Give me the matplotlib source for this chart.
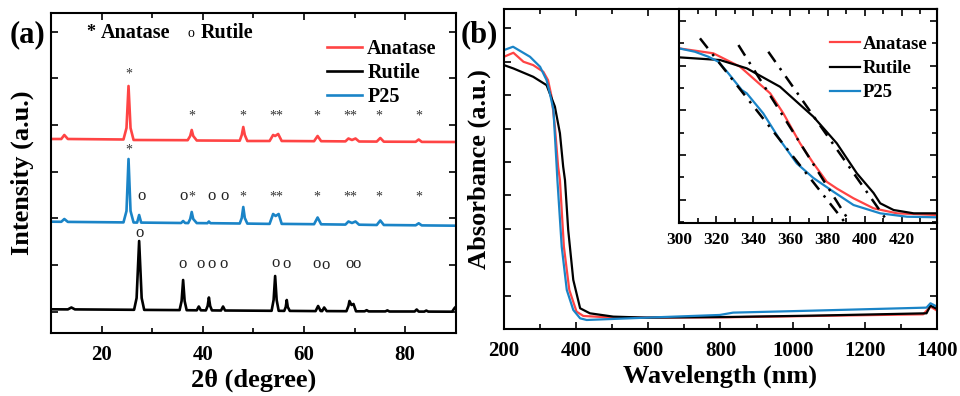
import numpy as np
import matplotlib
matplotlib.use('Agg')
import matplotlib.pyplot as plt
from matplotlib.ticker import MultipleLocator

plt.rcParams['font.family'] = ['Liberation Serif', 'DejaVu Serif']
plt.rcParams['font.weight'] = 'bold'

RED = '#ff4444'
BLUE = '#1a84c7'
BLACK = '#000000'

# ---- (a) XRD patterns, intensity already offset for stacking (a.u.)
ana_2t = [10, 12.0, 12.6, 13.3, 24.3, 24.9, 25.3, 25.7, 26.3, 37.0, 37.5, 37.8, 38.1, 38.8,
          47.3, 47.7, 48.0, 48.3, 48.8, 53.2, 53.9, 54.3, 54.9, 55.6, 62.0, 62.7, 63.4,
          68.2, 68.8, 69.5, 70.2, 70.9, 74.4, 75.1, 75.8, 82.1, 82.7, 83.3, 90]
ana_int = [194, 194, 198, 194, 193.5, 205, 247, 205, 193, 192.8, 197, 203, 197, 192.5,
           192.3, 198, 206, 198, 192, 192, 198, 197, 199, 192, 191.8, 197, 191.8,
           191.6, 194.5, 193, 194.5, 191.5, 191.4, 195, 191.3, 191.2, 193.5, 191.1, 191]

p25_2t = [10, 12.0, 12.6, 13.3, 24.3, 24.9, 25.3, 25.7, 26.3, 27.0, 27.4, 27.8, 35.7, 36.1, 36.5,
          37.1, 37.5, 37.8, 38.1, 38.8, 40.9, 41.2, 41.5, 47.3, 47.7, 48.0, 48.3, 48.8,
          53.2, 53.9, 54.4, 55.0, 55.6, 62.0, 62.7, 63.4, 68.2, 68.8, 69.5, 70.2, 70.9,
          74.4, 75.1, 75.8, 82.1, 82.7, 83.3, 90]
p25_int = [111.3, 111.2, 114, 111.1, 110.6, 122, 174, 122, 110.5, 110.4, 118, 110.4, 110.0, 112, 110.0,
           109.9, 114, 121, 114, 109.9, 109.8, 111.5, 109.8, 109.5, 115, 126, 115, 109.4,
           109.1, 119, 117, 119, 109.1, 108.8, 115.5, 108.7, 108.4, 111.5, 110, 111.5, 108.3,
           108.0, 112.5, 108.0, 107.7, 109.7, 107.6, 107.3]

rut_2t = [10, 13.3, 14.0, 14.7, 26.4, 26.9, 27.4, 27.9, 28.4, 35.4, 35.8, 36.1, 36.4, 36.8,
          38.8, 39.2, 39.6, 40.6, 40.95, 41.2, 41.45, 41.8, 43.6, 44.0, 44.4,
          53.6, 54.0, 54.3, 54.6, 55.0, 56.1, 56.4, 56.6, 56.8, 57.2,
          62.3, 62.8, 63.3, 63.6, 64.0, 64.5, 68.4, 68.8, 69.0, 69.4, 69.8, 70.3,
          72.0, 72.4, 72.8, 76.1, 76.5, 76.9, 81.9, 82.3, 82.7, 83.8, 84.2, 84.6, 89.3, 89.8, 90]
rut_int = [23.7, 23.6, 25.5, 23.6, 23.2, 35, 92, 35, 23.1, 22.9, 32, 53, 32, 22.8,
           22.7, 26.5, 22.7, 22.6, 27, 35.5, 27, 22.6, 22.5, 26.5, 22.5,
           22.2, 33, 57, 33, 22.2, 22.1, 26, 33, 26, 22.1,
           21.9, 27, 22.0, 21.9, 25.5, 21.9, 21.8, 27, 32, 28, 29, 21.7,
           21.7, 22.8, 21.6, 21.6, 22.6, 21.5, 21.5, 23.5, 21.4, 21.4, 22.4, 21.4, 21.3, 25, 26]

# phase marks: (2theta, height, text)
ana_marks = [(25.3, 259, '*'), (37.8, 217, '*'), (48.0, 217, '*'), (54.5, 217, '**'),
             (62.6, 217, '*'), (69.1, 217, '**'), (74.8, 217, '*'), (82.7, 217, '*')]
p25_marks = [(25.3, 183, '*'), (37.8, 136, '*'), (48.0, 136, '*'), (54.5, 136, '**'),
             (62.6, 136, '*'), (69.1, 136, '**'), (74.8, 136, '*'), (82.7, 136, '*')]
p25_rut_marks = [(27.95, 137, 'o'), (36.2, 137, 'o'), (41.8, 137, 'o'), (44.3, 137, 'o')]
rut_marks = [(27.4, 100, 'o'), (36.05, 69, 'o'), (39.6, 69, 'o'), (41.8, 69, 'o'), (44.1, 69, 'o'),
             (54.3, 70, 'o'), (56.6, 69, 'o'), (62.4, 69, 'o'), (64.2, 68, 'o'),
             (69.0, 69, 'o'), (70.4, 69, 'o')]

# ---- (b) UV-vis absorbance
uv_wl_p25 = [200, 225, 272, 300, 318, 327, 337, 346, 348, 360, 374, 392, 411, 429, 595, 798, 835, 1057, 1371, 1382, 1400]
uv_p25 = [8.35, 8.45, 8.15, 7.85, 7.45, 7.06, 6.56, 4.86, 4.46, 2.46, 1.17, 0.57, 0.32, 0.27, 0.34, 0.42, 0.49, 0.55, 0.64, 0.77, 0.67]
uv_wl_ana = [200, 226, 254, 281, 309, 322, 332, 341, 350, 355, 366, 381, 401, 420, 503, 817, 1057, 1362, 1382, 1400]
uv_ana = [8.15, 8.27, 8.0, 7.9, 7.7, 7.45, 6.95, 6.06, 4.86, 4.46, 2.46, 1.17, 0.52, 0.39, 0.34, 0.35, 0.39, 0.44, 0.67, 0.55]
uv_wl_rut = [200, 226, 281, 318, 341, 355, 364, 369, 378, 392, 411, 438, 503, 595, 826, 1057, 1371, 1382, 1400]
uv_rut = [7.9, 7.8, 7.55, 7.3, 6.66, 5.86, 4.86, 4.46, 2.96, 1.47, 0.62, 0.47, 0.37, 0.34, 0.36, 0.40, 0.47, 0.70, 0.60]

# inset (zoom of band edge)
in_wl_ana = [300, 318.5, 332.9, 349.1, 356.2, 365.2, 372.4, 379.6, 385, 394, 404.8, 417.4, 438.9]
in_ana = [3.386, 3.275, 2.975, 2.38, 1.932, 1.261, 0.814, 0.40, 0.25, 0.031, -0.193, -0.305, -0.343]
in_wl_rut = [300, 322.1, 336.5, 354.4, 372.4, 385, 395.8, 404.8, 408.4, 415.6, 426.4, 438.9]
in_rut = [3.185, 3.125, 2.939, 2.527, 1.856, 1.261, 0.59, 0.15, -0.081, -0.231, -0.305, -0.305]
in_wl_p25 = [300, 308.6, 315.8, 321.2, 326.6, 333.8, 336.5, 345.4, 354.4, 363.4, 372.4, 383.2, 394, 408.4, 422.8, 438.9]
in_p25 = [3.386, 3.31, 3.199, 3.087, 2.827, 2.454, 2.38, 1.93, 1.335, 0.814, 0.485, 0.178, -0.119, -0.305, -0.381, -0.394]
# tangent lines used for band-gap estimate: (x0, y0, x1, y1)
tangents = [(311.3, 3.61, 389.5, -0.515), (332.0, 3.46, 392.2, -0.515), (348.1, 3.31, 412.8, -0.515)]


def style_axes(ax, fs):
    for s in ax.spines.values():
        s.set_linewidth(1.5)
    ax.tick_params(which='both', direction='in', top=True, right=True, width=1.2, labelsize=fs)
    ax.tick_params(which='major', length=5)
    ax.tick_params(which='minor', length=3.5)
    for lab in ax.get_xticklabels():
        lab.set_fontweight('bold')


fig = plt.figure(figsize=(9.6, 3.96), dpi=100)

# ---------------- (a)
ax1 = fig.add_axes([0.0533, 0.1591, 0.4213, 0.8081])
ax1.plot(ana_2t, ana_int, color=RED, lw=1.9, label='Anatase')
ax1.plot(rut_2t, rut_int, color=BLACK, lw=1.9, label='Rutile')
ax1.plot(p25_2t, p25_int, color=BLUE, lw=1.9, label='P25')
for x, y, t in ana_marks + p25_marks:
    ax1.text(x, y, t, ha='center', va='center', fontsize=10, color='#333333', fontweight='normal')
for x, y, t in p25_rut_marks + rut_marks:
    ax1.text(x, y, t, ha='center', va='center', fontsize=12, color='#222222', fontweight='normal')
ax1.text(16.9, 300, '*', ha='left', va='center', fontsize=13, fontweight='bold')
ax1.text(19.8, 300, 'Anatase', ha='left', va='center', fontsize=14.5, fontweight='bold')
ax1.text(37.6, 299, 'o', ha='center', va='center', fontsize=10, fontweight='normal')
ax1.text(39.5, 300, 'Rutile', ha='left', va='center', fontsize=14.5, fontweight='bold')
ax1.set_xlim(10, 90)
ax1.set_ylim(0, 320)
ax1.xaxis.set_major_locator(MultipleLocator(20))
ax1.xaxis.set_minor_locator(MultipleLocator(10))
ax1.set_yticks(np.arange(21.3, 320, 46.67))
ax1.set_yticklabels([])
style_axes(ax1, 15)
ax1.tick_params(axis='x', which='both', pad=9)
ax1.set_xlabel('2θ (degree)', fontsize=19, fontweight='bold', labelpad=2)
ax1.set_ylabel('Intensity (a.u.)', fontsize=19, fontweight='bold', labelpad=9)
ax1.legend(loc='upper left', bbox_to_anchor=(0.682, 0.92), frameon=False,
           handlelength=1.75, handletextpad=0.25, labelspacing=0.22, borderpad=0, borderaxespad=0,
           prop={'weight': 'bold', 'size': 14.5})
fig.text(0.010, 1 - 35 / 396, '(a)', fontsize=22, fontweight='bold', va='center', ha='left')

# ---------------- (b)
ax2 = fig.add_axes([0.525, 0.1692, 0.451, 0.8081])
ax2.plot(uv_wl_ana, uv_ana, color=RED, lw=1.6)
ax2.plot(uv_wl_rut, uv_rut, color=BLACK, lw=1.6)
ax2.plot(uv_wl_p25, uv_p25, color=BLUE, lw=1.6)
ax2.set_xlim(200, 1400)
ax2.set_ylim(0, 9.58)
ax2.xaxis.set_major_locator(MultipleLocator(200))
ax2.xaxis.set_minor_locator(MultipleLocator(100))
ax2.set_yticks(np.arange(0, 9.58, 1))
ax2.set_yticklabels([])
style_axes(ax2, 15)
ax2.tick_params(axis='x', which='both', pad=9)
ax2.set_xlabel('Wavelength (nm)', fontsize=19, fontweight='bold', labelpad=2)
ax2.set_ylabel('Absorbance (a.u.)', fontsize=19, fontweight='bold', labelpad=6)
fig.text(0.480, 1 - 35 / 396, '(b)', fontsize=22, fontweight='bold', va='center', ha='left')

# inset
ax3 = fig.add_axes([0.7073, 0.4376, 0.2688, 0.5396])
ax3.plot(in_wl_ana, in_ana, color=RED, lw=1.6, label='Anatase')
ax3.plot(in_wl_rut, in_rut, color=BLACK, lw=1.6, label='Rutile')
ax3.plot(in_wl_p25, in_p25, color=BLUE, lw=1.6, label='P25')
for x0, y0, x1, y1 in tangents:
    ax3.plot([x0, x1], [y0, y1], color='black', lw=1.8, linestyle=(0, (5, 3, 1, 3)))
ax3.set_xlim(300, 439)
ax3.set_ylim(-0.515, 4.266)
ax3.xaxis.set_major_locator(MultipleLocator(20))
ax3.xaxis.set_minor_locator(MultipleLocator(10))
ax3.yaxis.set_major_locator(MultipleLocator(1))
ax3.yaxis.set_minor_locator(MultipleLocator(0.5))
ax3.set_yticklabels([])
style_axes(ax3, 12.5)
ax3.tick_params(axis='x', which='both', pad=7)
ax3.legend(loc='upper left', bbox_to_anchor=(0.585, 0.875), frameon=False,
           handlelength=1.6, handletextpad=0.15, labelspacing=0.38, borderpad=0, borderaxespad=0,
           prop={'weight': 'bold', 'size': 13.5})

fig.savefig('out.png', dpi=100)
